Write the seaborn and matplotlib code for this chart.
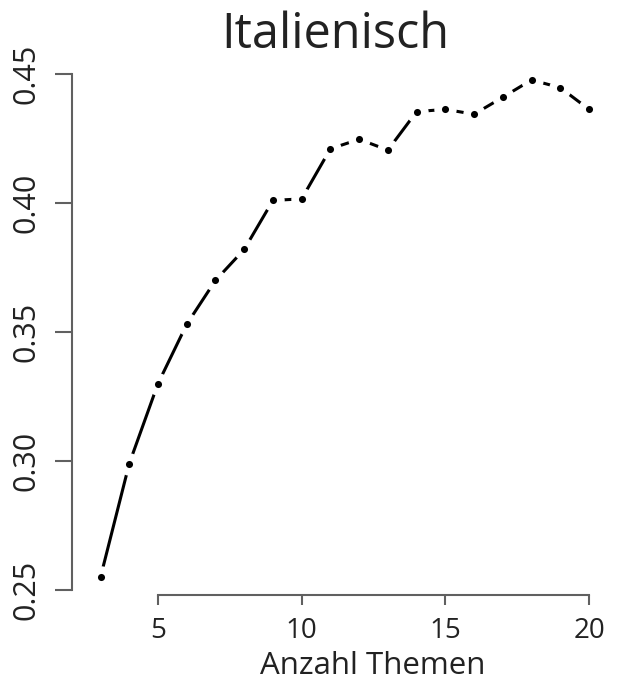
import numpy as np
import pandas as pd
import matplotlib
matplotlib.use("Agg")
import matplotlib.pyplot as plt
import seaborn as sns

# ---------- data ----------
themen = [3, 4, 5, 6, 7, 8, 9, 10, 11, 12, 13, 14, 15, 16, 17, 18, 19, 20]
koharenz = [0.255, 0.299, 0.330, 0.353, 0.370, 0.382, 0.401, 0.4016, 0.421,
            0.4247, 0.4205, 0.4354, 0.4363, 0.4344, 0.441, 0.4477, 0.4447, 0.4363]
x_ticks = [5, 10, 15, 20]
y_ticks = [0.25, 0.30, 0.35, 0.40, 0.45]
y_labels = ["0.25", "0.30", "0.35", "0.40", "0.45"]

df = pd.DataFrame({"themen": themen, "wert": koharenz})

sns.set_style("white")
plt.rcParams['font.family'] = ['Open Sans', 'DejaVu Sans']
TXT = '#222222'
AX = '#606060'

W, H = 619, 684
fig = plt.figure(figsize=(W / 100, H / 100), dpi=100)

# axes placed in pixel coords (R base-graphics look)
px_unit = (589 - 158) / 15.0
xlim = (2.0, 20.7)
left_px = 158 - (5 - xlim[0]) * px_unit
right_px = 589 + (xlim[1] - 20) * px_unit
ylim = (0.248, 0.4555)
py_unit = (590 - 74) / 0.2
bot_px = 590 + (0.25 - ylim[0]) * py_unit
top_px = 74 - (ylim[1] - 0.45) * py_unit
ax = fig.add_axes([left_px / W, (H - bot_px) / H,
                   (right_px - left_px) / W, (bot_px - top_px) / H])

# type = "b": line, white gap around points, then the dots
sns.lineplot(data=df, x="themen", y="wert", color='black', lw=2.2, ax=ax,
             legend=False)
sns.scatterplot(data=df, x="themen", y="wert", color='white', s=260,
                linewidth=0, ax=ax, zorder=3, legend=False)
sns.scatterplot(data=df, x="themen", y="wert", color='black', s=26,
                linewidth=0, ax=ax, zorder=4, legend=False)

ax.set_xlim(*xlim)
ax.set_ylim(*ylim)
ax.set_xticks(x_ticks)
ax.set_xticklabels([str(t) for t in x_ticks])
ax.set_yticks(y_ticks)
ax.set_yticklabels(y_labels, rotation=90, va='center')
ax.set_xlabel('')
ax.set_ylabel('')

for s in ['top', 'right']:
    ax.spines[s].set_visible(False)
ax.spines['left'].set_bounds(0.25, 0.45)
ax.spines['bottom'].set_bounds(5, 20)
for s in ['left', 'bottom']:
    ax.spines[s].set_color(AX)
    ax.spines[s].set_linewidth(1.5)

ax.tick_params(axis='x', length=7.5, width=1.5, color=AX, pad=8,
               labelsize=20, labelcolor=TXT, direction='out', bottom=True)
ax.tick_params(axis='y', length=12, width=1.5, color=AX, pad=10,
               labelsize=22, labelcolor=TXT, direction='out', left=True)

fig.text(335 / W, (H - 48) / H, 'Italienisch', ha='center', va='baseline',
         fontsize=35, color=TXT)
fig.text(373 / W, (H - 674) / H, 'Anzahl Themen', ha='center', va='baseline',
         fontsize=22.5, color=TXT)

fig.savefig('out.png', dpi=100, facecolor='white')
